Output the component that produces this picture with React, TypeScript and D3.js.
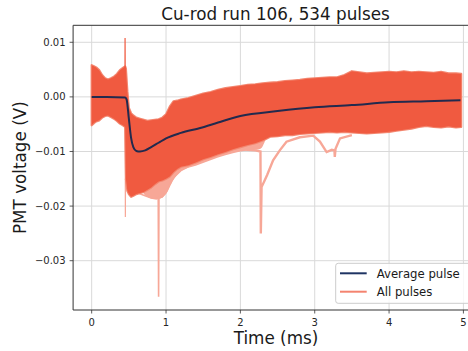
import React from "react";
import * as d3 from "d3";

const W = 468;
const H = 351;

const xTicks = [0, 1, 2, 3, 4, 5];
const yTicks = [0.01, 0.0, -0.01, -0.02, -0.03];
const yTickLabels = ["0.01", "0.00", "\u22120.01", "\u22120.02", "\u22120.03"];

// envelope of all pulses (ms, V)
const bandT = [0, 0.03, 0.06, 0.1, 0.14, 0.18, 0.22, 0.26, 0.3, 0.34, 0.38, 0.42, 0.45, 0.46, 0.48, 0.5, 0.53, 0.56, 0.6, 0.65, 0.7, 0.75, 0.8, 0.85, 0.9, 0.95, 1.0, 1.05, 1.1, 1.15, 1.2, 1.3, 1.4, 1.5, 1.6, 1.7, 1.8, 1.9, 2.0, 2.1, 2.2, 2.3, 2.4, 2.5, 2.6, 2.7, 2.8, 2.9, 3.0, 3.1, 3.2, 3.3, 3.4, 3.5, 3.6, 3.7, 3.8, 3.9, 4.0, 4.1, 4.2, 4.3, 4.4, 4.5, 4.6, 4.7, 4.8, 4.9, 4.97];
const bandHi = [0.0058, 0.0056, 0.0054, 0.0049, 0.004, 0.0034, 0.0032, 0.0034, 0.0037, 0.0042, 0.0049, 0.0053, 0.0056, 0.0052, 0.001, -0.002, -0.003, -0.0034, -0.0038, -0.004, -0.0042, -0.0044, -0.0043, -0.0042, -0.0041, -0.0038, -0.0032, -0.0018, -0.0008, -0.0007, -0.0005, -0.0002, 0.0002, 0.0006, 0.0009, 0.0013, 0.0016, 0.0018, 0.002, 0.0022, 0.0023, 0.0025, 0.0026, 0.0027, 0.0029, 0.003, 0.0031, 0.0033, 0.0034, 0.0035, 0.0036, 0.0036, 0.004, 0.0047, 0.0045, 0.0043, 0.0044, 0.0045, 0.0046, 0.0045, 0.0047, 0.0045, 0.0046, 0.0045, 0.0044, 0.0046, 0.0043, 0.0043, 0.0042];
const bandLo = [-0.0052, -0.0048, -0.0045, -0.0043, -0.0038, -0.0035, -0.0034, -0.0037, -0.004, -0.0044, -0.0049, -0.0052, -0.0055, -0.015, -0.0172, -0.0178, -0.0183, -0.0181, -0.0178, -0.0176, -0.0174, -0.017, -0.0166, -0.016, -0.0155, -0.0153, -0.015, -0.0146, -0.0138, -0.0132, -0.0128, -0.0125, -0.012, -0.0114, -0.011, -0.0105, -0.0101, -0.0096, -0.0092, -0.0088, -0.0085, -0.008, -0.0073, -0.0072, -0.007, -0.007, -0.0068, -0.0067, -0.0066, -0.0065, -0.0064, -0.0065, -0.0064, -0.0065, -0.0066, -0.0067, -0.0066, -0.0065, -0.0064, -0.0062, -0.006, -0.0058, -0.0055, -0.0053, -0.0055, -0.0056, -0.0054, -0.0056, -0.0055];

// sparse (few pulses) region just below the dense band
const fringeT = [0.7, 0.8, 0.9, 1.0, 1.1, 1.2, 1.4, 1.6, 1.8, 2.0, 2.2, 2.27, 2.34];
const fringeLo = [-0.0178, -0.0186, -0.0187, -0.0178, -0.0152, -0.0136, -0.0126, -0.0116, -0.0107, -0.0100, -0.0097, -0.0095, -0.0078];

// outlier pulses
const traceAT = [0.46, 0.5, 0.6, 0.7, 0.8, 0.87, 0.895, 0.9, 0.905, 0.95, 1.0, 1.05, 1.1, 1.2, 1.3];
const traceAV = [-0.014, -0.015, -0.0175, -0.018, -0.0185, -0.0187, -0.0185, -0.0366, -0.0185, -0.0183, -0.0175, -0.016, -0.0148, -0.0135, -0.0128];
const traceBT = [2.0, 2.1, 2.2, 2.27, 2.275, 2.285, 2.32, 2.36, 2.44, 2.53, 2.62, 2.8, 2.98, 3.07, 3.16, 3.23, 3.265, 3.27, 3.28, 3.34, 3.5];
const traceBV = [-0.0095, -0.0097, -0.0098, -0.01, -0.025, -0.0165, -0.0155, -0.0143, -0.0116, -0.0098, -0.0082, -0.0074, -0.0071, -0.0082, -0.0101, -0.0097, -0.0098, -0.011, -0.0095, -0.0076, -0.007];
const spikeCT = [0.448, 0.449, 0.451, 0.452];
const spikeCV = [0.0055, 0.0108, 0.004, 0.0055];
const spikeDT = [0.452, 0.453, 0.455];
const spikeDV = [-0.015, -0.022, -0.015];

// average pulse
const avgT = [0, 0.2, 0.45, 0.47, 0.5, 0.53, 0.56, 0.6, 0.65, 0.72, 0.8, 0.9, 1.0, 1.2, 1.46, 1.7, 2.0, 2.5, 3.0, 3.5, 4.0, 4.5, 4.96];
const avgV = [0, 0, -0.0001, -0.0005, -0.004, -0.0075, -0.0092, -0.0099, -0.01, -0.0098, -0.0092, -0.0084, -0.0076, -0.0066, -0.0057, -0.0047, -0.0035, -0.0026, -0.0019, -0.0015, -0.001, -0.0008, -0.0006];

const legendLabels = ["Average pulse", "All pulses"];

const FONT = "DejaVu Sans, sans-serif";
const BAND = "#f05a40";
const LIGHT = "#f7a797";
const NAVY = "#222a4e";

export default function App() {
  const left = 73.1;
  const right = 482;
  const top = 25.3;
  const bottom = 310;
  const x = d3.scaleLinear().domain([-0.25, 5.25]).range([left, right]);
  const y = d3.scaleLinear().domain([-0.03903, 0.01311]).range([bottom, top]);

  const band = d3
    .area<number>()
    .x((i) => x(bandT[i]))
    .y0((i) => y(bandLo[i]))
    .y1((i) => y(bandHi[i]));
  const idx = bandT.map((_, i) => i);
  const fringe = d3
    .area<number>()
    .x((i) => x(fringeT[i]))
    .y0((i) => y(fringeLo[i]))
    .y1(() => y(-0.006))
    .curve(d3.curveMonotoneX);
  const fidx = fringeT.map((_, i) => i);
  const line = d3
    .line<[number, number]>()
    .x((d) => x(d[0]))
    .y((d) => y(d[1]));
  const smooth = d3
    .line<[number, number]>()
    .x((d) => x(d[0]))
    .y((d) => y(d[1]))
    .curve(d3.curveMonotoneX);
  const zip = (a: number[], b: number[]) => a.map((t, i) => [t, b[i]] as [number, number]);

  return (
    <svg
      width={W}
      height={H}
      style={{ position: "absolute", left: 0, top: 0, background: "#fff" }}
      fontFamily={FONT}
    >
      <rect width={W} height={H} fill="#fff" />
      <defs>
        <clipPath id="plot">
          <rect x={left} y={top} width={right - left} height={bottom - top} />
        </clipPath>
      </defs>
      {/* grid */}
      <g stroke="#d9d9d9" strokeWidth={1}>
        {xTicks.map((t) => (
          <line key={"gx" + t} x1={x(t)} x2={x(t)} y1={top} y2={bottom} />
        ))}
        {yTicks.map((t) => (
          <line key={"gy" + t} x1={left} x2={right} y1={y(t)} y2={y(t)} />
        ))}
      </g>
      <g clipPath="url(#plot)">
        <path d={fringe(fidx) || ""} fill={LIGHT} />
        <path d={line(zip(traceAT, traceAV)) || ""} fill="none" stroke={LIGHT} strokeWidth={1.6} />
        <path d={line(zip(traceBT, traceBV)) || ""} fill="none" stroke={LIGHT} strokeWidth={2.4} />
        <path d={line(zip(spikeDT, spikeDV)) || ""} fill="none" stroke={LIGHT} strokeWidth={1.2} />
        <path d={band(idx) || ""} fill="none" stroke="#f3866f" strokeWidth={2.2} strokeLinejoin="round" />
        <path d={band(idx) || ""} fill={BAND} />
        <path d={line(zip(spikeCT, spikeCV)) || ""} fill="none" stroke={BAND} strokeWidth={1.2} />
        <path d={smooth(zip(avgT, avgV)) || ""} fill="none" stroke={NAVY} strokeWidth={2} strokeLinejoin="round" />
      </g>
      {/* spines */}
      <g stroke="#333" strokeWidth={1} fill="none">
        <line x1={left} x2={left} y1={top} y2={bottom} />
        <line x1={left} x2={right} y1={bottom} y2={bottom} />
        <line x1={left} x2={right} y1={top} y2={top} />
        <line x1={right} x2={right} y1={top} y2={bottom} />
      </g>
      {/* ticks */}
      <g stroke="#333" strokeWidth={0.8}>
        {xTicks.map((t) => (
          <line key={"tx" + t} x1={x(t)} x2={x(t)} y1={bottom} y2={bottom + 3.5} />
        ))}
        {yTicks.map((t) => (
          <line key={"ty" + t} x1={left - 3.5} x2={left} y1={y(t)} y2={y(t)} />
        ))}
      </g>
      <g fontSize={10} fill="#262626">
        {xTicks.map((t) => (
          <text key={"lx" + t} x={x(t)} y={bottom + 15.7} textAnchor="middle">
            {String(t)}
          </text>
        ))}
        {yTicks.map((t, i) => (
          <text key={"ly" + t} x={left - 7.5} y={y(t) + 3.6} textAnchor="end">
            {yTickLabels[i]}
          </text>
        ))}
      </g>
      <text x={275.5} y={19.5} fontSize={16.8} textAnchor="middle" fill="#1a1a1a">
        Cu-rod run 106, 534 pulses
      </text>
      <text x={276} y={344} fontSize={16.8} textAnchor="middle" fill="#1a1a1a">
        Time (ms)
      </text>
      <text
        transform={`translate(25.5, ${(top + bottom) / 2}) rotate(-90)`}
        fontSize={16.8}
        textAnchor="middle"
        fill="#1a1a1a"
      >
        PMT voltage (V)
      </text>
      {/* legend */}
      <g>
        <rect x={335.7} y={263.3} width={141} height={40} rx={2.5} fill="#fff" fillOpacity={0.8} stroke="#cccccc" strokeWidth={1} />
        <line x1={340} x2={366.7} y1={273.3} y2={273.3} stroke="#1f3463" strokeWidth={2} />
        <line x1={340} x2={366.7} y1={291.7} y2={291.7} stroke="#f4836f" strokeWidth={2} />
        <text x={376.7} y={277.5} fontSize={11.7} fill="#1a1a1a">
          {legendLabels[0]}
        </text>
        <text x={376.7} y={295.9} fontSize={11.7} fill="#1a1a1a">
          {legendLabels[1]}
        </text>
      </g>
    </svg>
  );
}
